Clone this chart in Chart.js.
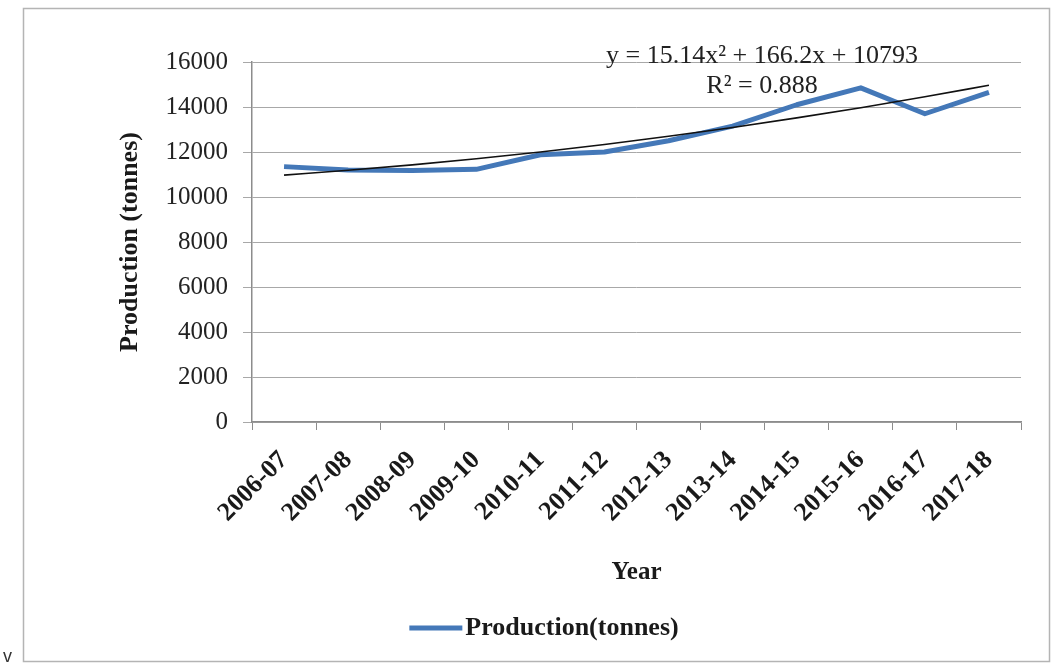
<!DOCTYPE html>
<html>
<head>
<meta charset="utf-8">
<script src="https://cdn.jsdelivr.net/npm/chart.js@4/dist/chart.umd.min.js"></script>
<style>
  html, body { margin: 0; padding: 0; background: #ffffff; }
  #wrap { width: 1051px; height: 665px; }
  canvas { display: block; }
</style>
</head>
<body>
<div id="wrap"><canvas id="c" width="1051" height="665"></canvas></div>
<script>
// Crop years (x categories)
const years = ['2006-07', '2007-08', '2008-09', '2009-10', '2010-11', '2011-12',
               '2012-13', '2013-14', '2014-15', '2015-16', '2016-17', '2017-18'];

// Annual production, tonnes
const production = [11350, 11200, 11180, 11230, 11880, 12000,
                    12500, 13150, 14100, 14850, 13700, 14650];

// Polynomial (order 2) trendline coefficients: a*x^2 + b*x + c, x = 1..n
const trendCoef = [15.14, 166.2, 10793];
const trendR2 = 0.888;

// Y axis ticks
const yTicks = [0, 2000, 4000, 6000, 8000, 10000, 12000, 14000, 16000];

const trend = years.map((_, i) => {
  const x = i + 1;
  return trendCoef[0] * x * x + trendCoef[1] * x + trendCoef[2];
});

const SERIF = '"Liberation Serif", "Times New Roman", serif';
const BLUE = '#4478B8';

// Frame, stray margin glyph, trendline equation and legend
const decorations = {
  id: 'decorations',
  beforeDraw(chart) {
    const ctx = chart.ctx;
    ctx.save();
    ctx.fillStyle = '#ffffff';
    ctx.fillRect(0, 0, chart.width, chart.height);
    ctx.strokeStyle = '#b4b4b4';
    ctx.lineWidth = 1.5;
    ctx.strokeRect(23.5, 8.5, 1026, 653);
    ctx.fillStyle = '#333333';
    ctx.font = '18px "Liberation Sans", Arial, sans-serif';
    ctx.textAlign = 'left';
    ctx.textBaseline = 'alphabetic';
    ctx.fillText('v', 3, 662);
    ctx.restore();
  },
  afterDraw(chart) {
    const ctx = chart.ctx;
    ctx.save();
    // Trendline equation
    ctx.fillStyle = '#222222';
    ctx.font = '26px ' + SERIF;
    ctx.textAlign = 'center';
    ctx.textBaseline = 'middle';
    const eq = 'y = ' + trendCoef[0] + 'x\u00B2 + ' + trendCoef[1] + 'x + ' + trendCoef[2];
    ctx.fillText(eq, 762, 56);
    ctx.fillText('R\u00B2 = ' + trendR2, 762, 86);

    // Legend (production series only)
    const ds = chart.data.datasets[1];
    ctx.font = 'bold 26px ' + SERIF;
    const label = ds.label;
    const tw = ctx.measureText(label).width;
    const lineW = 53, gap = 3;
    const total = lineW + gap + tw;
    const x0 = 544 - total / 2;
    const ly = 628;
    ctx.strokeStyle = ds.borderColor;
    ctx.lineWidth = 5;
    ctx.beginPath();
    ctx.moveTo(x0, ly);
    ctx.lineTo(x0 + lineW, ly);
    ctx.stroke();
    ctx.fillStyle = '#1a1a1a';
    ctx.textAlign = 'left';
    ctx.textBaseline = 'middle';
    ctx.fillText(label, x0 + lineW + gap, ly);
    ctx.restore();
  }
};

new Chart(document.getElementById('c'), {
  type: 'line',
  data: {
    labels: years,
    datasets: [
      {
        label: 'Poly. (Production(tonnes))',
        data: trend,
        borderColor: '#111111',
        borderWidth: 1.6,
        pointRadius: 0,
        fill: false,
        cubicInterpolationMode: 'monotone',
        order: 0
      },
      {
        label: 'Production(tonnes)',
        data: production,
        borderColor: BLUE,
        borderWidth: 5,
        pointRadius: 0,
        fill: false,
        tension: 0,
        borderJoinStyle: 'round',
        order: 1
      }
    ]
  },
  options: {
    responsive: false,
    animation: false,
    layout: { padding: { left: 24, right: 30, top: 62, bottom: 0 } },
    plugins: {
      legend: { display: false },
      tooltip: { enabled: false }
    },
    scales: {
      x: {
        type: 'category',
        offset: true,
        afterFit(scale) { scale.height = 243; },
        grid: {
          display: true,
          drawOnChartArea: false,
          drawTicks: true,
          tickLength: 8,
          color: '#8c8c8c',
          offset: true
        },
        border: { display: true, color: '#8c8c8c', width: 1.5 },
        ticks: {
          autoSkip: false,
          minRotation: 45,
          maxRotation: 45,
          padding: 15,
          color: '#1a1a1a',
          font: { family: SERIF, size: 26, weight: 'bold' }
        },
        title: {
          display: true,
          text: 'Year',
          color: '#1a1a1a',
          font: { family: SERIF, size: 25, weight: 'bold' },
          padding: { top: 0, bottom: 77 }
        }
      },
      y: {
        min: 0,
        max: 16000,
        afterFit(scale) { scale.width = 228; },
        afterBuildTicks(scale) { scale.ticks = yTicks.map(v => ({ value: v })); },
        grid: {
          color: '#a8a8a8',
          lineWidth: 1,
          drawTicks: true,
          tickLength: 9
        },
        border: { display: true, color: '#8c8c8c', width: 1.5 },
        ticks: {
          padding: 15,
          color: '#222222',
          font: { family: SERIF, size: 25 },
          callback: (v) => String(v)
        },
        title: {
          display: true,
          text: 'Production (tonnes)',
          color: '#1a1a1a',
          font: { family: SERIF, size: 26, weight: 'bold' },
          padding: { top: 91, bottom: 0 }
        }
      }
    }
  },
  plugins: [decorations]
});
</script>
</body>
</html>
